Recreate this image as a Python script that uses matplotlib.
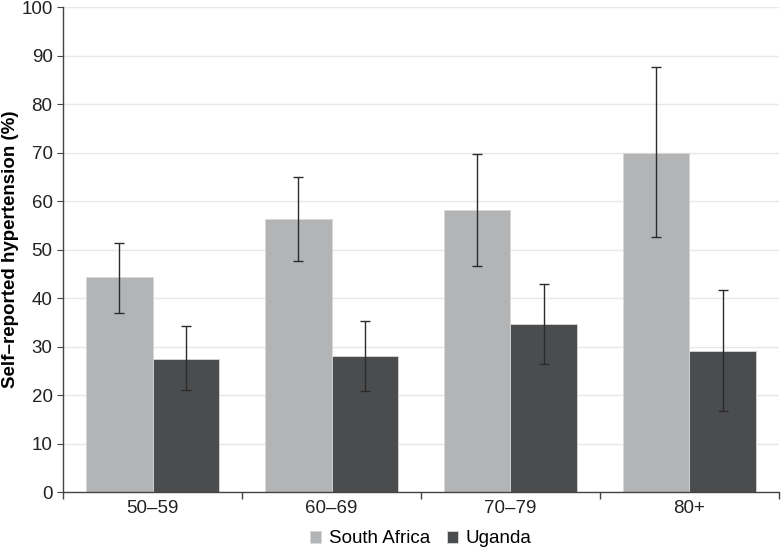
import numpy as np
import matplotlib.pyplot as plt

plt.rcParams['font.family'] = ['Liberation Sans', 'DejaVu Sans']

# Age groups and prevalence estimates with 95% CI bounds
age_groups = ['50\u201359', '60\u201369', '70\u201379', '80+']
sa_values = [44.3, 56.3, 58.1, 70.0]
sa_lower = [37.0, 47.6, 46.7, 52.6]
sa_upper = [51.3, 65.0, 69.7, 87.6]
ug_values = [27.5, 28.0, 34.6, 29.1]
ug_lower = [21.0, 20.8, 26.3, 16.7]
ug_upper = [34.2, 35.3, 43.0, 41.6]


def main():
    fig = plt.figure(figsize=(7.81, 5.47), dpi=100)
    ax = fig.add_axes([0.0807, 0.1005, 0.9167, 0.8865])

    x = np.arange(len(age_groups))
    width = 0.37

    sa_err = [np.array(sa_values) - np.array(sa_lower), np.array(sa_upper) - np.array(sa_values)]
    ug_err = [np.array(ug_values) - np.array(ug_lower), np.array(ug_upper) - np.array(ug_values)]
    err_style = dict(ecolor='#2b2b2b', elinewidth=1.0, capsize=3.5, capthick=1.0)

    ax.bar(x - width / 2, sa_values, width, color='#b3b4b6', edgecolor='#d8d8d8', linewidth=0.6,
           yerr=sa_err, error_kw=err_style, label='South Africa', zorder=2)
    ax.bar(x + width / 2, ug_values, width, color='#4b4c4e', edgecolor='#d8d8d8', linewidth=0.6,
           yerr=ug_err, error_kw=err_style, label='Uganda', zorder=2)

    ax.set_xlim(-0.5, len(age_groups) - 0.5)
    ax.set_ylim(0, 100)
    ax.set_yticks(np.arange(0, 101, 10))
    ax.yaxis.grid(True, color='#e8e8e8', linewidth=1.0, zorder=0)
    ax.set_axisbelow(True)

    # category labels in the middle, tick marks on the boundaries
    ax.set_xticks(x)
    ax.set_xticklabels(age_groups)
    ax.tick_params(axis='x', length=0, labelsize=13.5, pad=6, colors='#222222')
    ax.set_xticks(np.arange(-0.5, len(age_groups), 1.0), minor=True)
    ax.tick_params(axis='x', which='minor', length=5, color='#444444', width=1)
    ax.tick_params(axis='y', length=4.5, labelsize=13.5, pad=3, color='#444444', colors='#222222')

    for side in ['top', 'right']:
        ax.spines[side].set_visible(False)
    for side in ['left', 'bottom']:
        ax.spines[side].set_color('#444444')
        ax.spines[side].set_linewidth(1.0)

    ax.set_ylabel('Self\u2013reported hypertension (%)', fontsize=13.5, fontweight='bold')
    ax.yaxis.set_label_coords(-0.061, 0.5)

    ax.legend(loc='upper center', bbox_to_anchor=(0.5, -0.06), ncol=2, frameon=False,
              fontsize=13.5, handlelength=0.6, handleheight=0.6, handletextpad=0.4,
              columnspacing=0.9, borderpad=0)

    fig.savefig('out.png', dpi=100)


if __name__ == '__main__':
    main()
